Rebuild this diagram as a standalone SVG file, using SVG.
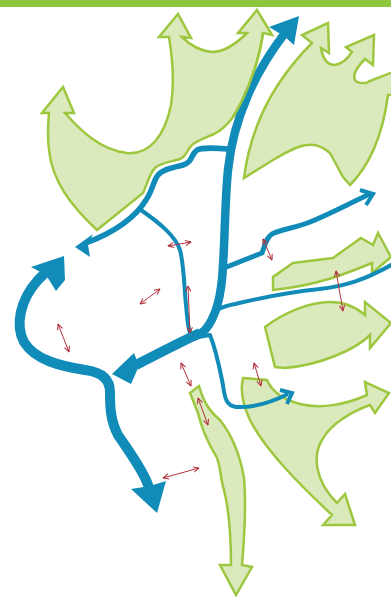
<svg xmlns="http://www.w3.org/2000/svg" width="391" height="597" viewBox="0 0 391 597">
<style>
.g{fill:#dbeabd;stroke:#9dc73f;stroke-width:2.5;stroke-linejoin:miter}
.gl{fill:none;stroke:#9dc73f;stroke-width:2.5}
.b{fill:none;stroke:#118bb8;stroke-linecap:butt;stroke-linejoin:round}
.bh{fill:#118bb8;stroke:none}
.bc{fill:none;stroke:#118bb8;stroke-width:4;stroke-linejoin:miter}
.r{fill:none;stroke:#b3323c;stroke-width:1;marker-start:url(#ah);marker-end:url(#ah)}
</style>
<defs>
<marker id="ah" viewBox="0 0 8 8" refX="7.5" refY="4" markerWidth="7" markerHeight="7" markerUnits="userSpaceOnUse" orient="auto-start-reverse">
<path d="M1,1 L7.5,4 L1,7" fill="none" stroke="#b3323c" stroke-width="1.2"/>
</marker>
</defs>
<rect x="0" y="0" width="391" height="7" fill="#8dc63f"/>
<g id="shapeA"><path class="g" d="M63,87 L74,113 L65,113 C80,130 100,150 127,153 C150,155 165,135 171,105 C175,80 172,55 169,37 L159,37 L178,14 L191,38 L182,37 C190,45 200,51 212,52 C225,52 238,42 247,33 L238,33 L257,10 L272,35 L263,33 C260,55 250,90 233,117 C228,124 222,130 214,134 C205,138 196,141 191,146 C187,150 187,156 180,159 C170,162 160,163 155,168 C149,174 147,185 143,193 L97,230 C70,205 52,180 49,150 C47,135 48,125 49,113 L42,113 Z"/></g>
<g id="shapeB"><path class="g" d="M244,178 C250,130 270,85 312,43 L302,35 L328,23 L329,53 L321,48 C323,60 328,65 335,65 C342,64 348,58 352,52 L346,47 L374,35 L373,65 L365,59 C358,66 352,74 355,80 C358,84 362,83 366,83 L370,81 L393,72 L393,95 L388,95 C384,125 375,160 350,185 L343,177 L330,153 C322,146 315,144 308,145 C300,145 290,150 273,160 Z"/></g>
<g id="shapeC"><path class="g" d="M273,290 L273,277 L293,263 L333,258 L361,238 L373,245 L378,233 L391,257 L372,273 L372,263 C350,272 320,285 273,290 Z"/></g>
<g id="shapeD"><path class="g" d="M265,327 C285,312 310,302 330,302 C345,302 357,308 365,315 L365,302 L391,323 L370,348 L370,335 C355,350 320,365 285,368 L275,367 Z"/></g>
<g id="shapeE"><path class="g" d="M243,378 L267,380 C272,392 285,400 300,404 C320,409 345,405 367,395 L365,382 L389,393 L375,413 L370,405 C350,412 330,425 322,440 C313,455 314,480 337,503 L345,494 L355,525 L323,525 L332,515 C300,485 265,450 250,420 C243,405 240,390 243,378 Z"/></g>
<g id="shapeF"><path class="g" d="M190,393 L199,386 C203,400 208,410 220,420 C232,435 240,455 244,478 C246,500 245,530 242,565 L252,567 L236,595 L220,565 L231,565 C231,540 229,510 224,490 C220,478 221,465 216,456 C208,443 202,430 198,413 Z"/></g>
<g id="connectors">
<path class="b" stroke-width="8.5" d="M285,33 C272,50 258,72 248,95 C238,118 231,140 228,170 C225,200 225,235 223,265 C222,290 218,315 205,330 C200,334 197,336 193,337"/>
<polygon class="bh" points="269,27 299,16 294,45 284,36"/>
<path class="b" stroke-width="10" d="M200,333 C185,340 165,350 136,365"/>
<polygon class="bh" points="112,374 134,353 139,366 131,384"/>
<path class="b" stroke-width="5.5" d="M229,149 C215,148 203,147 197,150 C191,154 193,162 183,165 C172,168 163,169 158,175 C153,181 153,190 146,200 C135,218 115,232 86,243"/>
<polygon class="bh" points="75,247 93,234 88,245 90,257"/>
<path class="b" stroke-width="4" d="M141,210 C158,222 175,235 180,250 C184,265 184,285 186,305 C188,325 188,335 195,338"/>
<path class="b" stroke-width="10" d="M155,500 L148,485 C143,470 128,450 118,435 C110,420 110,405 110,392 C110,378 100,372 85,370 C60,366 35,360 24,342 C15,325 20,300 38,280 L50,268"/>
<polygon class="bh" points="31,267 64,256 65,280 56,291 46,275"/>
<polygon class="bh" points="131,489 157,513 166,481 150,486"/>
<path class="b" stroke-width="5" d="M224,268 L262,253 C265,245 266,238 272,234 C282,229 295,228 310,222 C330,214 350,203 370,194"/>
<polyline class="bc" points="360,190 373,194 366,205"/>
<path class="b" stroke-width="4" d="M210,318 C215,310 220,307 235,304 C260,298 290,292 320,289 C345,286 365,280 393,264"/>
<path class="b" stroke-width="4" d="M192,338 L210,335 C214,345 218,360 222,380 C225,395 224,405 236,407 C255,408 272,402 288,394"/>
<polyline class="bc" points="280,390 292,393 287,404"/>
</g>
<path class="gl" d="M263,33 C260,55 250,90 233,117"/>
<g id="measures">
<line class="r" x1="168" y1="246" x2="191" y2="242"/>
<line class="r" x1="140" y1="304" x2="160" y2="289"/>
<line class="r" x1="188" y1="286" x2="190" y2="333"/>
<line class="r" x1="58" y1="324" x2="69" y2="352"/>
<line class="r" x1="181" y1="363" x2="191" y2="386"/>
<line class="r" x1="263" y1="239" x2="272" y2="260"/>
<line class="r" x1="336" y1="271" x2="343" y2="311"/>
<line class="r" x1="254" y1="363" x2="261" y2="386"/>
<line class="r" x1="198" y1="398" x2="208" y2="425"/>
<line class="r" x1="163" y1="478" x2="199" y2="468"/>
</g>
</svg>
